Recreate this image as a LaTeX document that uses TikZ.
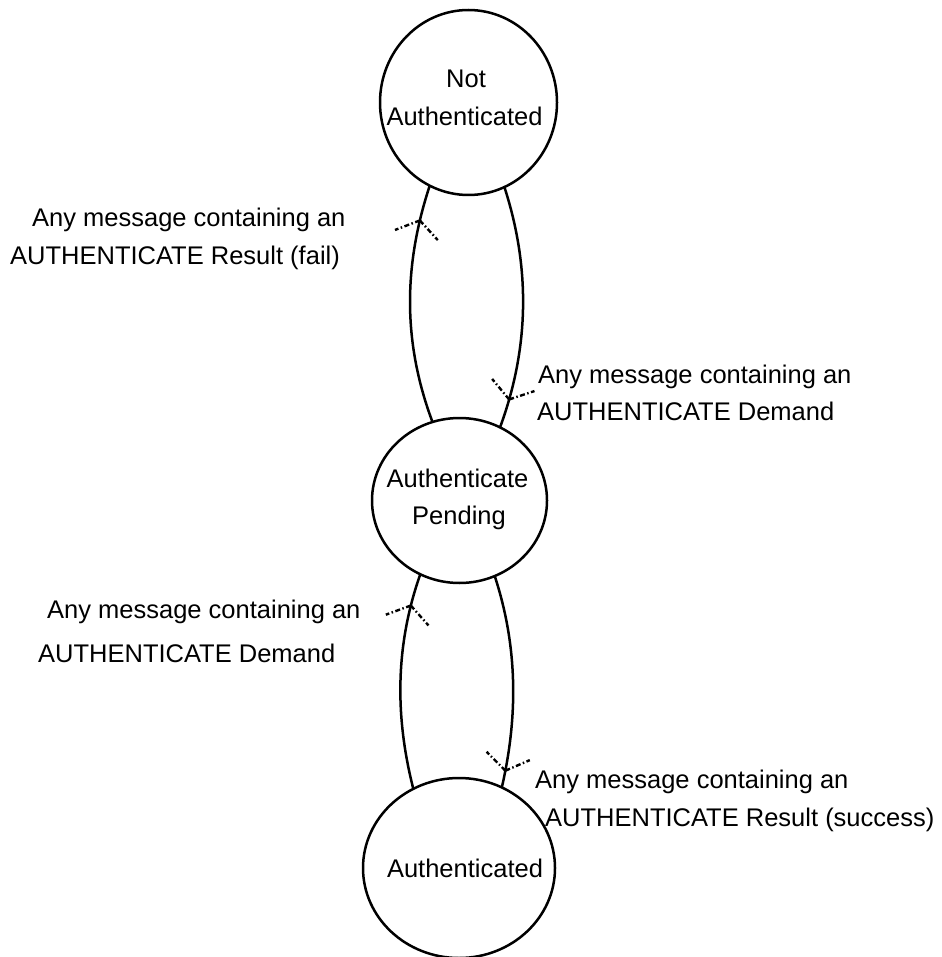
\documentclass[tikz,border=0pt]{standalone}
\usepackage{fontspec}
\setmainfont{Liberation Sans}
\usetikzlibrary{shapes.geometric,decorations.markings}
\tikzset{
  state/.style={ellipse, draw, line width=2.5pt, inner sep=0pt, outer sep=0pt},
  lbl/.style={inner sep=0pt, font=\fontsize{25.5}{30}\selectfont},
  link/.style={line width=2.5pt},
  vtip/.style={line width=2.4pt, dash pattern=on 5pt off 2.5pt on 1.5pt off 2.5pt},
  fwdv/.style={postaction={decorate, decoration={markings, mark=at position #1 with {\draw[vtip] (0pt,0pt) -- (-15pt,22pt); \draw[vtip] (0pt,0pt) -- (-15pt,-22pt);}}}},
  bwdv/.style={postaction={decorate, decoration={markings, mark=at position #1 with {\draw[vtip] (0pt,0pt) -- (15pt,22pt); \draw[vtip] (0pt,0pt) -- (15pt,-22pt);}}}},
}
\begin{document}
\begin{tikzpicture}[x=1pt,y=-1pt]
\useasboundingbox (0,0) rectangle (941,957);
% states
\node[state, minimum width=177pt, minimum height=185pt] (na) at (468.5,102.5) {};
\node[state, minimum width=175pt, minimum height=165pt] (ap) at (459.5,500.5) {};
\node[state, minimum width=192pt, minimum height=180pt] (au) at (459,868) {};
\node[lbl, anchor=base] (natx1) at (466,88) {Not};
\node[lbl, anchor=base] (natx2) at (464.5,126) {Authenticated};
\node[lbl, anchor=base] (aptx1) at (457.5,487) {Authenticate};
\node[lbl, anchor=base] (aptx2) at (459,524) {Pending};
\node[lbl, anchor=base] (autx) at (465,877) {Authenticated};
% transitions
\draw[link, bwdv=0.15] (na.245) .. controls (403,267) and (403,343) .. (ap.109);
\draw[link, fwdv=0.88] (na.293) .. controls (530,266) and (530,346) .. (ap.61);
\draw[link, bwdv=0.15] (ap.242) .. controls (395,646) and (395,717) .. (au.120);
\draw[link, fwdv=0.92] (ap.295) .. controls (518,647) and (518,717) .. (au.62);
% labels
\node[lbl, anchor=base west] (l1a) at (32,227) {Any message containing an};
\node[lbl, anchor=base west] (l1b) at (10,265) {AUTHENTICATE Result (fail)};
\node[lbl, anchor=base west] (l2a) at (538,383) {Any message containing an};
\node[lbl, anchor=base west] (l2b) at (537,420) {AUTHENTICATE Demand};
\node[lbl, anchor=base west] (l3a) at (47,618) {Any message containing an};
\node[lbl, anchor=base west] (l3b) at (38,662) {AUTHENTICATE Demand};
\node[lbl, anchor=base west] (l4a) at (535,788) {Any message containing an};
\node[lbl, anchor=base west] (l4b) at (545,826) {AUTHENTICATE Result (success)};
\end{tikzpicture}
\end{document}
